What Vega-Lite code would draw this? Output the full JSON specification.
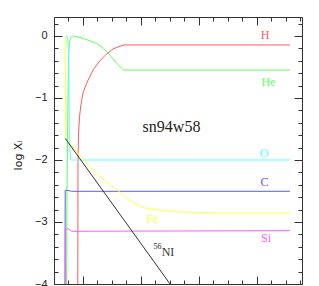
{
  "$schema": "https://vega.github.io/schema/vega-lite/v6.json",
  "width": 248,
  "height": 267,
  "autosize": {"type": "none"},
  "padding": {"left": 54, "top": 17, "right": 17, "bottom": 2},
  "background": "white",
  "config": {"view": {"stroke": "#333", "strokeWidth": 1}},
  "datasets": {
    "lines": [
      {"s": "H", "i": 0, "x": 0.910, "y": -4.3},
      {"s": "H", "i": 1, "x": 0.914, "y": -2.0},
      {"s": "H", "i": 2, "x": 0.922, "y": -1.6},
      {"s": "H", "i": 3, "x": 0.940, "y": -1.3},
      {"s": "H", "i": 4, "x": 0.966, "y": -1.1},
      {"s": "H", "i": 5, "x": 1.000, "y": -0.92},
      {"s": "H", "i": 6, "x": 1.064, "y": -0.76},
      {"s": "H", "i": 7, "x": 1.178, "y": -0.54},
      {"s": "H", "i": 8, "x": 1.293, "y": -0.40},
      {"s": "H", "i": 9, "x": 1.397, "y": -0.30},
      {"s": "H", "i": 10, "x": 1.517, "y": -0.21},
      {"s": "H", "i": 11, "x": 1.621, "y": -0.17},
      {"s": "H", "i": 12, "x": 1.707, "y": -0.145},
      {"s": "H", "i": 13, "x": 4.569, "y": -0.145},
      {"s": "He", "i": 0, "x": 0.716, "y": -4.3},
      {"s": "He", "i": 1, "x": 0.724, "y": -2.5},
      {"s": "He", "i": 2, "x": 0.741, "y": -1.0},
      {"s": "He", "i": 3, "x": 0.753, "y": -0.3},
      {"s": "He", "i": 4, "x": 0.767, "y": -0.1},
      {"s": "He", "i": 5, "x": 0.784, "y": -0.03},
      {"s": "He", "i": 6, "x": 0.819, "y": 0.0},
      {"s": "He", "i": 7, "x": 0.879, "y": -0.01},
      {"s": "He", "i": 8, "x": 1.005, "y": -0.04},
      {"s": "He", "i": 9, "x": 1.121, "y": -0.08},
      {"s": "He", "i": 10, "x": 1.236, "y": -0.12},
      {"s": "He", "i": 11, "x": 1.345, "y": -0.19},
      {"s": "He", "i": 12, "x": 1.436, "y": -0.28},
      {"s": "He", "i": 13, "x": 1.509, "y": -0.36},
      {"s": "He", "i": 14, "x": 1.581, "y": -0.44},
      {"s": "He", "i": 15, "x": 1.698, "y": -0.55},
      {"s": "He", "i": 16, "x": 4.569, "y": -0.55},
      {"s": "O", "i": 0, "x": 0.703, "y": 0.0},
      {"s": "O", "i": 1, "x": 0.716, "y": 0.008},
      {"s": "O", "i": 2, "x": 0.733, "y": -0.032},
      {"s": "O", "i": 3, "x": 0.750, "y": -0.226},
      {"s": "O", "i": 4, "x": 0.759, "y": -0.71},
      {"s": "O", "i": 5, "x": 0.764, "y": -1.516},
      {"s": "O", "i": 6, "x": 0.776, "y": -1.839},
      {"s": "O", "i": 7, "x": 0.790, "y": -2.0},
      {"s": "O", "i": 8, "x": 4.569, "y": -2.0},
      {"s": "C", "i": 0, "x": 0.690, "y": -4.3},
      {"s": "C", "i": 1, "x": 0.693, "y": -2.49},
      {"s": "C", "i": 2, "x": 0.741, "y": -2.49},
      {"s": "C", "i": 3, "x": 0.802, "y": -2.505},
      {"s": "C", "i": 4, "x": 4.569, "y": -2.505},
      {"s": "Si", "i": 0, "x": 0.690, "y": -4.3},
      {"s": "Si", "i": 1, "x": 0.693, "y": -3.113},
      {"s": "Si", "i": 2, "x": 0.747, "y": -3.113},
      {"s": "Si", "i": 3, "x": 0.805, "y": -3.15},
      {"s": "Si", "i": 4, "x": 4.569, "y": -3.14},
      {"s": "Fe", "i": 0, "x": 0.695, "y": 0.0},
      {"s": "Fe", "i": 1, "x": 0.698, "y": -1.032},
      {"s": "Fe", "i": 2, "x": 0.703, "y": -1.629},
      {"s": "Fe", "i": 3, "x": 0.724, "y": -1.694},
      {"s": "Fe", "i": 4, "x": 0.810, "y": -1.774},
      {"s": "Fe", "i": 5, "x": 0.948, "y": -1.940},
      {"s": "Fe", "i": 6, "x": 1.121, "y": -2.113},
      {"s": "Fe", "i": 7, "x": 1.293, "y": -2.263},
      {"s": "Fe", "i": 8, "x": 1.431, "y": -2.379},
      {"s": "Fe", "i": 9, "x": 1.581, "y": -2.479},
      {"s": "Fe", "i": 10, "x": 1.724, "y": -2.589},
      {"s": "Fe", "i": 11, "x": 1.867, "y": -2.694},
      {"s": "Fe", "i": 12, "x": 1.983, "y": -2.747},
      {"s": "Fe", "i": 13, "x": 2.098, "y": -2.785},
      {"s": "Fe", "i": 14, "x": 2.207, "y": -2.798},
      {"s": "Fe", "i": 15, "x": 2.328, "y": -2.806},
      {"s": "Fe", "i": 16, "x": 2.672, "y": -2.839},
      {"s": "Fe", "i": 17, "x": 3.478, "y": -2.855},
      {"s": "Fe", "i": 18, "x": 4.569, "y": -2.855},
      {"s": "Ni", "i": 0, "x": 0.695, "y": -1.653},
      {"s": "Ni", "i": 1, "x": 2.586, "y": -4.11}
    ],
    "labels": [
      {"s": "H", "t": "H", "x": 4.138, "y": 0.008},
      {"s": "He", "t": "He", "x": 4.198, "y": -0.737},
      {"s": "O", "t": "O", "x": 4.126, "y": -1.887},
      {"s": "C", "t": "C", "x": 4.129, "y": -2.347},
      {"s": "Si", "t": "Si", "x": 4.155, "y": -3.258},
      {"s": "Fe", "t": "Fe", "x": 2.195, "y": -2.952},
      {"s": "Ni", "t": "NI", "x": 2.466, "y": -3.484}
    ],
    "sup": [
      {"t": "56", "x": 2.284, "y": -3.411}
    ],
    "name": [
      {"t": "sn94w58", "x": 2.526, "y": -1.468}
    ]
  },
  "layer": [
    {
      "data": {"name": "lines"},
      "mark": {"type": "line", "strokeWidth": 1, "clip": true},
      "encoding": {
        "x": {
          "field": "x", "type": "quantitative",
          "scale": {"domain": [0.5, 4.776], "nice": false, "zero": false},
          "axis": {
            "orient": "bottom", "title": null, "domain": false, "grid": false,
            "values": [0.75, 1, 1.25, 1.5, 1.75, 2, 2.25, 2.5, 2.75, 3, 3.25, 3.5, 3.75, 4, 4.25, 4.5, 4.75],
            "labels": false, "tickColor": "#333", "ticks": true, "tickSize": -4
          }
        },
        "y": {
          "field": "y", "type": "quantitative",
          "scale": {"domain": [-4, 0.306], "nice": false, "zero": false},
          "axis": {
            "orient": "left", "domain": false, "grid": false, "ticks": true,
            "values": [-4, -3.8, -3.6, -3.4, -3.2, -3, -2.8, -2.6, -2.4, -2.2, -2, -1.8, -1.6, -1.4, -1.2, -1, -0.8, -0.6, -0.4, -0.2, 0, 0.2],
            "labelExpr": "abs(datum.value - round(datum.value)) < 0.001 ? format(datum.value, 'd') : ''",
            "labelFont": "Liberation Sans", "labelFontSize": 11, "labelColor": "#222",
            "labelPadding": 11, "labelFlush": false, "labelOverlap": false,
            "tickColor": "#333", "tickSize": -4,
            "title": "log Xᵢ", "titleFont": "DejaVu Sans", "titleFontSize": 11, "titleFontWeight": "normal",
            "titleColor": "#222", "titleX": -36, "titleY": 138, "titleAlign": "center", "titleBaseline": "middle", "titleAngle": -90
          }
        },
        "color": {
          "field": "s", "type": "nominal",
          "scale": {"domain": ["H", "He", "O", "C", "Si", "Fe", "Ni"], "range": ["#ff5a5a", "#5aff5a", "#5affff", "#5a5aff", "#ff5aff", "#ffff44", "#333333"]},
          "legend": null
        },
        "order": {"field": "i", "type": "quantitative"}
      }
    },
    {
      "data": {"name": "lines"},
      "mark": {"type": "line", "opacity": 0},
      "encoding": {
        "x": {
          "field": "x", "type": "quantitative",
          "axis": {
            "orient": "top", "title": null, "domain": false, "grid": false, "labels": false, "ticks": true,
            "values": [0.75, 1, 1.25, 1.5, 1.75, 2, 2.25, 2.5, 2.75, 3, 3.25, 3.5, 3.75, 4, 4.25, 4.5, 4.75],
            "tickColor": "#333", "tickSize": -4
          }
        },
        "y": {
          "field": "y", "type": "quantitative",
          "axis": {
            "orient": "right", "title": null, "domain": false, "grid": false, "labels": false, "ticks": true,
            "values": [-4, -3.8, -3.6, -3.4, -3.2, -3, -2.8, -2.6, -2.4, -2.2, -2, -1.8, -1.6, -1.4, -1.2, -1, -0.8, -0.6, -0.4, -0.2, 0, 0.2],
            "tickColor": "#333", "tickSize": -4
          }
        }
      }
    },
    {
      "data": {"name": "lines"},
      "mark": {"type": "line", "opacity": 0},
      "encoding": {
        "x": {
          "field": "x", "type": "quantitative",
          "axis": {
            "orient": "bottom", "title": null, "domain": false, "grid": false, "labels": false, "ticks": true,
            "values": [1, 2, 3, 4], "tickColor": "#333", "tickSize": -8
          }
        },
        "y": {
          "field": "y", "type": "quantitative",
          "axis": {
            "orient": "left", "title": null, "domain": false, "grid": false, "labels": false, "ticks": true,
            "values": [-4, -3, -2, -1, 0], "tickColor": "#333", "tickSize": -8
          }
        }
      }
    },
    {
      "data": {"name": "lines"},
      "mark": {"type": "line", "opacity": 0},
      "encoding": {
        "x": {
          "field": "x", "type": "quantitative",
          "axis": {
            "orient": "top", "title": null, "domain": false, "grid": false, "labels": false, "ticks": true,
            "values": [1, 2, 3, 4], "tickColor": "#333", "tickSize": -8
          }
        },
        "y": {
          "field": "y", "type": "quantitative",
          "axis": {
            "orient": "right", "title": null, "domain": false, "grid": false, "labels": false, "ticks": true,
            "values": [-4, -3, -2, -1, 0], "tickColor": "#333", "tickSize": -8
          }
        }
      }
    },
    {
      "data": {"name": "labels"},
      "mark": {"type": "text", "font": "Liberation Serif", "fontSize": 12, "align": "center", "baseline": "middle"},
      "encoding": {
        "x": {"field": "x", "type": "quantitative", "axis": null},
        "y": {"field": "y", "type": "quantitative", "axis": null},
        "text": {"field": "t"},
        "color": {"field": "s", "type": "nominal", "legend": null}
      }
    },
    {
      "data": {"name": "sup"},
      "mark": {"type": "text", "font": "Liberation Serif", "fontSize": 8, "align": "center", "baseline": "middle", "color": "#222"},
      "encoding": {
        "x": {"field": "x", "type": "quantitative", "axis": null},
        "y": {"field": "y", "type": "quantitative", "axis": null},
        "text": {"field": "t"}
      }
    },
    {
      "data": {"name": "name"},
      "mark": {"type": "text", "font": "Liberation Serif", "fontSize": 16, "align": "center", "baseline": "middle", "color": "#222"},
      "encoding": {
        "x": {"field": "x", "type": "quantitative", "axis": null},
        "y": {"field": "y", "type": "quantitative", "axis": null},
        "text": {"field": "t"}
      }
    }
  ],
  "resolve": {"axis": {"x": "independent", "y": "independent"}}
}
